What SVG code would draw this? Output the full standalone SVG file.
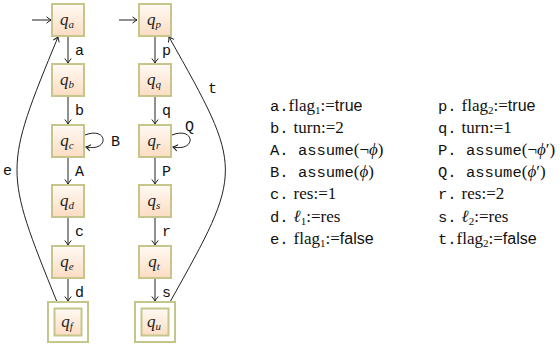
<svg xmlns="http://www.w3.org/2000/svg" width="560" height="349" viewBox="0 0 560 349">
<style>
.box{fill:url(#g);stroke:#c6c68c;stroke-width:2}
.outer{fill:#fff;stroke:#c6c68c;stroke-width:2}
.edge{fill:none;stroke:#222;stroke-width:1}
.lbl{font-family:'Liberation Mono','DejaVu Sans Mono',monospace;font-size:15px;fill:#111}
.nl{font-family:'Liberation Serif','DejaVu Serif',serif;font-style:italic;font-size:17px;fill:#222;text-anchor:middle}
.s{font-size:11px}
.lg{font-family:'Liberation Serif','DejaVu Serif',serif;font-size:17px;fill:#111}
.tt{font-family:'Liberation Mono','DejaVu Sans Mono',monospace;font-size:15.5px}
.sf{font-family:'Liberation Sans','DejaVu Sans',sans-serif;font-size:16px}
</style>
<defs>
<linearGradient id="g" x1="0" y1="0" x2="0" y2="1">
<stop offset="0" stop-color="#fffaf4"/>
<stop offset="1" stop-color="#fcdcc2"/>
</linearGradient>
<marker id="arr" markerUnits="userSpaceOnUse" markerWidth="10" markerHeight="10" viewBox="-6 -5 8 10" refX="0" refY="0" orient="auto">
<path d="M -4.5 -3.2 Q -1.5 -0.8 0 0 Q -1.5 0.8 -4.5 3.2" fill="none" stroke="#222" stroke-width="1"/>
</marker>
</defs>

<g id="connectors">
<path class="edge" d="M32 20 H51" marker-end="url(#arr)"/>
<path class="edge" d="M119 20 H137" marker-end="url(#arr)"/>
<path class="edge" d="M68 37 V63" marker-end="url(#arr)"/>
<path class="edge" d="M68 97 V124" marker-end="url(#arr)"/>
<path class="edge" d="M68 158 V184" marker-end="url(#arr)"/>
<path class="edge" d="M68 218 V245" marker-end="url(#arr)"/>
<path class="edge" d="M68 279 V301" marker-end="url(#arr)"/>
<path class="edge" d="M155 37 V63" marker-end="url(#arr)"/>
<path class="edge" d="M155 97 V124" marker-end="url(#arr)"/>
<path class="edge" d="M155 158 V184" marker-end="url(#arr)"/>
<path class="edge" d="M155 218 V245" marker-end="url(#arr)"/>
<path class="edge" d="M155 279 V301" marker-end="url(#arr)"/>
<path class="edge" d="M85 135 C108 126 110 152 86 147" marker-end="url(#arr)"/>
<path class="edge" d="M172 135 C195 126 197 152 173 147" marker-end="url(#arr)"/>
<path class="edge" d="M57 302 C3.5 169.5 3.5 169.5 58 37" marker-end="url(#arr)"/>
<path class="edge" d="M170 302 C244 170 244 170 169 37" marker-end="url(#arr)"/>
<text class="lbl" x="75" y="55">a</text>
<text class="lbl" x="75" y="115">b</text>
<text class="lbl" x="75" y="176">A</text>
<text class="lbl" x="75" y="236">c</text>
<text class="lbl" x="75" y="297">d</text>
<text class="lbl" x="111" y="146">B</text>
<text class="lbl" x="3" y="175">e</text>
<text class="lbl" x="162" y="55">p</text>
<text class="lbl" x="162" y="115">q</text>
<text class="lbl" x="162" y="176">P</text>
<text class="lbl" x="162" y="236">r</text>
<text class="lbl" x="162" y="297">s</text>
<text class="lbl" x="185" y="131">Q</text>
<text class="lbl" x="208" y="93">t</text>
</g>

<g id="qa"><rect class="box" x="52" y="4" width="32" height="32"/><text class="nl" x="67" y="25">q<tspan class="s" dy="3">a</tspan></text></g>
<g id="qb"><rect class="box" x="52" y="64" width="32" height="32"/><text class="nl" x="67" y="85">q<tspan class="s" dy="3">b</tspan></text></g>
<g id="qc"><rect class="box" x="52" y="125" width="32" height="32"/><text class="nl" x="67" y="146">q<tspan class="s" dy="3">c</tspan></text></g>
<g id="qd"><rect class="box" x="52" y="185" width="32" height="32"/><text class="nl" x="67" y="206">q<tspan class="s" dy="3">d</tspan></text></g>
<g id="qe"><rect class="box" x="52" y="246" width="32" height="32"/><text class="nl" x="67" y="267">q<tspan class="s" dy="3">e</tspan></text></g>
<g id="qf"><rect class="outer" x="48" y="302" width="40" height="40"/><rect class="box" x="54.5" y="308.5" width="27" height="27"/><text class="nl" x="67" y="327">q<tspan class="s" dy="3">f</tspan></text></g>
<g id="qp"><rect class="box" x="139" y="4" width="32" height="32"/><text class="nl" x="154" y="25">q<tspan class="s" dy="3">p</tspan></text></g>
<g id="qq"><rect class="box" x="139" y="64" width="32" height="32"/><text class="nl" x="154" y="85">q<tspan class="s" dy="3">q</tspan></text></g>
<g id="qr"><rect class="box" x="139" y="125" width="32" height="32"/><text class="nl" x="154" y="146">q<tspan class="s" dy="3">r</tspan></text></g>
<g id="qs"><rect class="box" x="139" y="185" width="32" height="32"/><text class="nl" x="154" y="206">q<tspan class="s" dy="3">s</tspan></text></g>
<g id="qt"><rect class="box" x="139" y="246" width="32" height="32"/><text class="nl" x="154" y="267">q<tspan class="s" dy="3">t</tspan></text></g>
<g id="qu"><rect class="outer" x="135" y="302" width="40" height="40"/><rect class="box" x="141.5" y="308.5" width="27" height="27"/><text class="nl" x="154" y="327">q<tspan class="s" dy="3">u</tspan></text></g>

<g id="legend" class="lg">
<text x="270" y="110.5"><tspan class="tt">a.</tspan>flag<tspan class="s" dy="3">1</tspan><tspan dy="-3">:=</tspan><tspan class="sf">true</tspan></text>
<text x="270" y="132.7"><tspan class="tt">b.</tspan><tspan dx="5">turn:=2</tspan></text>
<text x="270" y="154.9"><tspan class="tt">A. assume</tspan>(¬<tspan font-style="italic">ϕ</tspan>)</text>
<text x="270" y="177.1"><tspan class="tt">B. assume</tspan>(<tspan font-style="italic">ϕ</tspan>)</text>
<text x="270" y="199.3"><tspan class="tt">c.</tspan><tspan dx="5">res:=1</tspan></text>
<text x="270" y="221.5"><tspan class="tt">d.</tspan><tspan dx="5" font-style="italic">ℓ</tspan><tspan class="s" dy="3">1</tspan><tspan dy="-3">:=res</tspan></text>
<text x="270" y="243.7"><tspan class="tt">e.</tspan><tspan dx="5">flag</tspan><tspan class="s" dy="3">1</tspan><tspan dy="-3">:=</tspan><tspan class="sf">false</tspan></text>
<text x="438" y="110.5"><tspan class="tt">p.</tspan><tspan dx="5">flag</tspan><tspan class="s" dy="3">2</tspan><tspan dy="-3">:=</tspan><tspan class="sf">true</tspan></text>
<text x="438" y="132.7"><tspan class="tt">q.</tspan><tspan dx="5">turn:=1</tspan></text>
<text x="438" y="154.9"><tspan class="tt">P. assume</tspan>(¬<tspan font-style="italic">ϕ</tspan>′)</text>
<text x="438" y="177.1"><tspan class="tt">Q. assume</tspan>(<tspan font-style="italic">ϕ</tspan>′)</text>
<text x="438" y="199.3"><tspan class="tt">r.</tspan><tspan dx="5">res:=2</tspan></text>
<text x="438" y="221.5"><tspan class="tt">s.</tspan><tspan dx="5" font-style="italic">ℓ</tspan><tspan class="s" dy="3">2</tspan><tspan dy="-3">:=res</tspan></text>
<text x="438" y="243.7"><tspan class="tt">t.</tspan>flag<tspan class="s" dy="3">2</tspan><tspan dy="-3">:=</tspan><tspan class="sf">false</tspan></text>
</g>
</svg>
